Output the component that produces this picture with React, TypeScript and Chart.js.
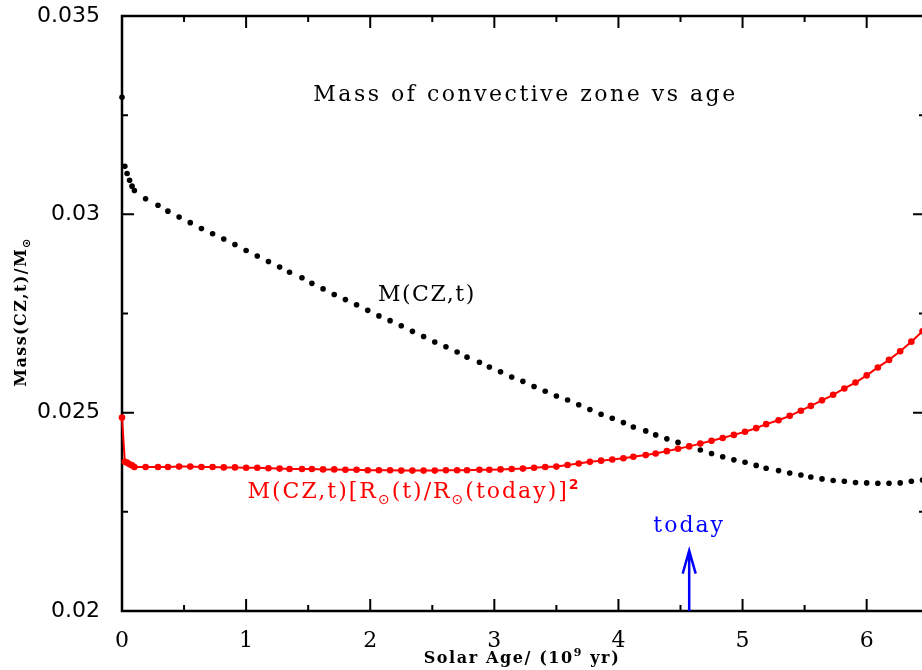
import { useEffect, useRef } from "react";
import { Chart, registerables } from "chart.js";

Chart.register(...registerables);

// Solar age (Gyr)
const AGES = [
  0, 0.023, 0.041, 0.061, 0.081,
  0.10, 0.19, 0.29, 0.37, 0.46, 0.55, 0.64, 0.73, 0.82, 0.91,
  1.00, 1.09, 1.18, 1.27, 1.35, 1.45, 1.53, 1.62, 1.71, 1.80,
  1.89, 1.98, 2.07, 2.16, 2.25, 2.34, 2.43, 2.52, 2.61, 2.70,
  2.78, 2.88, 2.96, 3.05, 3.14, 3.23, 3.32, 3.41, 3.50, 3.59,
  3.68, 3.77, 3.86, 3.95, 4.04, 4.12, 4.22, 4.30, 4.39, 4.48,
  4.57, 4.66, 4.75, 4.84, 4.93, 5.02, 5.11, 5.19, 5.29, 5.38,
  5.47, 5.55, 5.64, 5.73, 5.82, 5.91, 6.00, 6.09, 6.18, 6.27,
  6.36, 6.45,
];

// M(CZ,t) / Msun
const MCZ = [
  0.03295, 0.03121, 0.03103, 0.03086, 0.03071,
  0.03060, 0.03039, 0.03023, 0.03008, 0.02993, 0.02979, 0.02964, 0.02951, 0.02938, 0.02924,
  0.02909, 0.02895, 0.02881, 0.02867, 0.02854, 0.02840, 0.02826, 0.02812, 0.02798, 0.02785,
  0.02772, 0.02758, 0.02744, 0.02732, 0.02719, 0.02705, 0.02692, 0.02678, 0.02666, 0.02653,
  0.02640, 0.02627, 0.02615, 0.02603, 0.02590, 0.02579, 0.02566, 0.02554, 0.02542, 0.02532,
  0.02520, 0.02508, 0.02496, 0.02486, 0.02475, 0.02464, 0.02454, 0.02444, 0.02434, 0.02425,
  0.02416, 0.02406, 0.02397, 0.02389, 0.02381, 0.02375, 0.02367, 0.02360, 0.02354, 0.02348,
  0.02343, 0.02338, 0.02333, 0.02329, 0.02327, 0.02324, 0.02323, 0.02322, 0.02322, 0.02323,
  0.02327, 0.02330,
];

// M(CZ,t) [R(t)/R(today)]^2 / Msun
const MCZ_SCALED = [
  0.02488, 0.02376, 0.02374, 0.02370, 0.02367,
  0.02363, 0.02363, 0.02363, 0.02363, 0.02364, 0.02364, 0.02363, 0.02363, 0.02362, 0.02362,
  0.02361, 0.02361, 0.02360, 0.02359, 0.02358, 0.02358, 0.02358, 0.02357, 0.02357, 0.02356,
  0.02356, 0.02355, 0.02355, 0.02355, 0.02354, 0.02354, 0.02354, 0.02354, 0.02355, 0.02355,
  0.02355, 0.02356, 0.02356, 0.02357, 0.02358, 0.02359, 0.02361, 0.02363, 0.02364, 0.02368,
  0.02372, 0.02376, 0.02379, 0.02382, 0.02385, 0.02389, 0.02393, 0.02397, 0.02403, 0.02409,
  0.02415, 0.02422, 0.02429, 0.02436, 0.02444, 0.02452, 0.02461, 0.02471, 0.02481, 0.02492,
  0.02505, 0.02517, 0.02531, 0.02545, 0.02561, 0.02576, 0.02594, 0.02614, 0.02633, 0.02655,
  0.02679, 0.02705,
];

const X_TICK_LABELS = ["0", "1", "2", "3", "4", "5", "6"];
const Y_TICK_LABELS = ["0.02", "0.025", "0.03", "0.035"];

const TODAY_AGE = 4.57;
const ARROW_TIP = 0.02152;

const SERIF = '"DejaVu Serif", serif';
const SANS = '"DejaVu Sans", sans-serif';

type Part = { t: string; font: string; dy?: number };

function drawParts(
  ctx: CanvasRenderingContext2D,
  parts: Part[],
  x: number,
  y: number,
  align: "left" | "center",
  spacing: number
) {
  (ctx as any).letterSpacing = spacing + "px";
  ctx.textAlign = "left";
  ctx.textBaseline = "alphabetic";
  let total = 0;
  const widths = parts.map((p) => {
    ctx.font = p.font;
    const w = ctx.measureText(p.t).width;
    total += w;
    return w;
  });
  let cx = align === "center" ? x - total / 2 : x;
  parts.forEach((p, i) => {
    ctx.font = p.font;
    ctx.fillText(p.t, cx, y + (p.dy || 0));
    cx += widths[i];
  });
  (ctx as any).letterSpacing = "0px";
}

const framePlugin = {
  id: "frame",
  beforeDatasetsDraw(chart: any) {
    const { ctx, chartArea: a, scales } = chart;
    const xs = scales.x;
    const ys = scales.y;
    ctx.save();
    ctx.strokeStyle = "#000";
    ctx.lineWidth = 2;
    ctx.beginPath();
    xs.ticks.forEach((t: any) => {
      const px = xs.getPixelForValue(t.value);
      const len = Number.isInteger(t.value) ? 12 : 6;
      ctx.moveTo(px, a.bottom);
      ctx.lineTo(px, a.bottom - len);
      ctx.moveTo(px, a.top);
      ctx.lineTo(px, a.top + len);
    });
    ys.ticks.forEach((t: any) => {
      const py = ys.getPixelForValue(t.value);
      const major = Math.abs(Math.round(t.value / 0.005) * 0.005 - t.value) < 1e-9;
      const len = major ? 12 : 6;
      ctx.moveTo(a.left, py);
      ctx.lineTo(a.left + len, py);
      ctx.moveTo(a.right, py);
      ctx.lineTo(a.right - len, py);
    });
    ctx.stroke();
    ctx.lineWidth = 2.5;
    ctx.strokeRect(a.left, a.top, a.right - a.left, a.bottom - a.top);
    ctx.restore();
  },
  afterDraw(chart: any) {
    const { ctx, chartArea: a, scales } = chart;
    const xs = scales.x;
    const ys = scales.y;
    ctx.save();

    // today arrow
    const ax = xs.getPixelForValue(TODAY_AGE);
    const tip = ys.getPixelForValue(ARROW_TIP);
    ctx.strokeStyle = "#0000ff";
    ctx.lineWidth = 2.5;
    ctx.beginPath();
    ctx.moveTo(ax, a.bottom);
    ctx.lineTo(ax, tip);
    ctx.moveTo(ax - 6.5, tip + 23);
    ctx.lineTo(ax, tip);
    ctx.lineTo(ax + 6.5, tip + 23);
    ctx.stroke();

    ctx.fillStyle = "#0000ff";
    drawParts(ctx, [{ t: "today", font: `22px ${SERIF}` }], ax, 532, "center", 2);

    // title
    ctx.fillStyle = "#000";
    drawParts(
      ctx,
      [{ t: "Mass of convective zone vs age", font: `22px ${SERIF}` }],
      525.5,
      101,
      "center",
      2.5
    );

    // black label
    drawParts(ctx, [{ t: "M(CZ,t)", font: `22px ${SERIF}` }], 378, 301, "left", 1.5);

    // red label
    ctx.fillStyle = "#ff0000";
    drawParts(
      ctx,
      [
        { t: "M(CZ,t)[R", font: `22px ${SERIF}` },
        { t: "\u2299", font: `14px ${SANS}`, dy: 6 },
        { t: "(t)/R", font: `22px ${SERIF}` },
        { t: "\u2299", font: `14px ${SANS}`, dy: 6 },
        { t: "(today)]", font: `22px ${SERIF}` },
        { t: "2", font: `bold 14px ${SANS}`, dy: -9 },
      ],
      247.5,
      498,
      "left",
      2
    );

    // x axis title
    ctx.fillStyle = "#000";
    drawParts(
      ctx,
      [
        { t: "Solar Age/ (10", font: `bold 16px ${SERIF}` },
        { t: "9", font: `bold 11px ${SERIF}`, dy: -7 },
        { t: " yr)", font: `bold 16px ${SERIF}` },
      ],
      522,
      663,
      "center",
      1.6
    );

    // y axis title
    ctx.translate(26, 312);
    ctx.rotate(-Math.PI / 2);
    drawParts(
      ctx,
      [
        { t: "Mass(CZ,t)/M", font: `bold 16px ${SERIF}` },
        { t: "\u2299", font: `bold 11px ${SANS}`, dy: 4 },
      ],
      0,
      0,
      "center",
      1.4
    );
    ctx.restore();
  },
};

export default function App() {
  const ref = useRef<HTMLCanvasElement | null>(null);

  useEffect(() => {
    if (!ref.current) return;
    document.documentElement.style.overflow = "hidden";
    const chart = new Chart(ref.current, {
      type: "scatter",
      data: {
        datasets: [
          {
            label: "scaled",
            data: AGES.map((a, i) => ({ x: a, y: MCZ_SCALED[i] })),
            showLine: true,
            borderColor: "#ff0000",
            backgroundColor: "#ff0000",
            borderWidth: 2,
            pointRadius: 3.3,
            pointBorderWidth: 0,
            clip: false,
          } as any,
          {
            label: "mcz",
            data: AGES.map((a, i) => ({ x: a, y: MCZ[i] })),
            showLine: false,
            backgroundColor: "#000000",
            borderColor: "#000000",
            pointRadius: 2.8,
            pointBorderWidth: 0,
            clip: false,
          } as any,
        ],
      },
      options: {
        animation: false,
        responsive: false,
        devicePixelRatio: 1,
        events: [],
        layout: { padding: { left: 0, top: 16, right: 5, bottom: 0 } },
        plugins: {
          legend: { display: false },
          tooltip: { enabled: false },
          title: { display: false },
        },
        scales: {
          x: {
            type: "linear",
            min: 0,
            max: 6.47,
            afterFit: (s: any) => {
              s.height = 59;
              s.paddingLeft = 0;
              s.paddingRight = 0;
            },
            grid: { display: false },
            border: { display: false },
            ticks: {
              stepSize: 0.5,
              includeBounds: false,
              autoSkip: false,
              maxRotation: 0,
              padding: 9,
              color: "#000",
              font: { family: SERIF, size: 22 },
              callback: (v: any) => {
                const n = Number(v);
                return Number.isInteger(n) && X_TICK_LABELS[n] !== undefined ? X_TICK_LABELS[n] : "";
              },
            },
          },
          y: {
            type: "linear",
            min: 0.02,
            max: 0.035,
            afterFit: (s: any) => {
              s.width = 122;
              s.paddingTop = 0;
              s.paddingBottom = 0;
            },
            grid: { display: false },
            border: { display: false },
            ticks: {
              stepSize: 0.0025,
              includeBounds: false,
              autoSkip: false,
              padding: 14,
              color: "#000",
              font: { family: SANS, size: 22 },
              callback: (v: any) => {
                const n = Number(v);
                const lab = Y_TICK_LABELS.find((l) => Math.abs(Number(l) - n) < 1e-9);
                return lab ?? "";
              },
            },
          },
        },
      } as any,
      plugins: [framePlugin],
    });
    return () => chart.destroy();
  }, []);

  return (
    <div
      style={{
        position: "absolute",
        left: 0,
        top: 0,
        width: 922,
        height: 670,
        overflow: "hidden",
        background: "#fff",
      }}
    >
      <canvas ref={ref} width={930} height={670} style={{ display: "block", width: 930, height: 670 }} />
    </div>
  );
}
